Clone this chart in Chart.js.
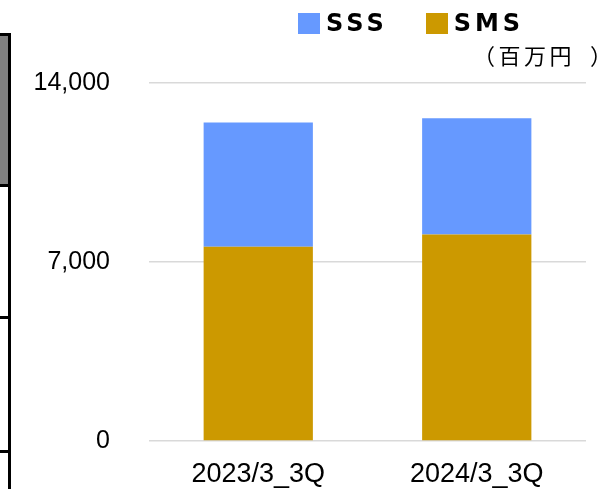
<!DOCTYPE html>
<html>
<head>
<meta charset="utf-8">
<script src="https://cdn.jsdelivr.net/npm/chart.js@4"></script>
<style>
  html, body { margin: 0; padding: 0; background: #fff; }
  #wrap { position: relative; width: 612px; height: 489px; overflow: hidden; }
  #c { position: absolute; left: 0; top: 0; }
  .deco { position: absolute; background: #000; }
  #legend { position: absolute; left: 298px; top: 9px; display: flex; align-items: center;
            font-family: "DejaVu Sans", sans-serif; font-weight: bold; font-size: 24px; color: #000; }
  #legend .item { display: flex; align-items: center; margin-right: 38px; }
  #legend .sw { width: 22px; height: 21px; margin-right: 6px; }
  #legend .tx { letter-spacing: 4px; }
  #unit { position: absolute; left: 473px; top: 43px; font-family: "Noto Sans CJK JP", sans-serif;
          font-size: 22px; line-height: 22px; letter-spacing: 3.5px; color: #000; white-space: nowrap; }
  #unit .rp { margin-left: 15px; }
</style>
</head>
<body>
<div id="wrap">
  <canvas id="c" width="612" height="489"></canvas>
  <!-- cropped slide table edge on the left -->
  <div style="position:absolute;left:0;top:34px;width:9px;height:151px;background:#808080;"></div>
  <div class="deco" style="left:0;top:33px;width:11px;height:3px;"></div>
  <div class="deco" style="left:8px;top:33px;width:3px;height:456px;"></div>
  <div class="deco" style="left:0;top:184px;width:11px;height:3px;"></div>
  <div class="deco" style="left:0;top:316px;width:11px;height:3px;"></div>
  <div class="deco" style="left:0;top:450px;width:11px;height:3px;"></div>
  <div id="legend"></div>
  <div id="unit"><span>（</span>百万円<span class="rp">）</span></div>
</div>
<script>
const categories = ["2023/3_3Q", "2024/3_3Q"];
const smsValues = [7600, 8080];
const sssValues = [4860, 4540];
const yTicks = [0, 7000, 14000];
const seriesNames = ["SSS", "SMS"];
const seriesColors = { SSS: "#6699FF", SMS: "#CC9900" };

// HTML legend built from the series names/colours
const lg = document.getElementById("legend");
seriesNames.forEach(n => {
  const it = document.createElement("div"); it.className = "item";
  const sw = document.createElement("div"); sw.className = "sw"; sw.style.background = seriesColors[n];
  const tx = document.createElement("span"); tx.className = "tx"; tx.textContent = n;
  it.appendChild(sw); it.appendChild(tx); lg.appendChild(it);
});

const yFont = { family: "'Liberation Sans', Arial, sans-serif", size: 25 };
const xFont = { family: "'Liberation Sans', Arial, sans-serif", size: 27 };

new Chart(document.getElementById("c"), {
  type: "bar",
  data: {
    labels: categories,
    datasets: [
      { label: "SMS", data: smsValues, backgroundColor: seriesColors.SMS, borderWidth: 0 },
      { label: "SSS", data: sssValues, backgroundColor: seriesColors.SSS, borderWidth: 0 }
    ]
  },
  options: {
    responsive: false,
    animation: false,
    devicePixelRatio: 1,
    layout: { padding: { left: 0, right: 26, top: 83, bottom: 0 } },
    plugins: { legend: { display: false }, tooltip: { enabled: false } },
    datasets: { bar: { categoryPercentage: 1, barPercentage: 0.5 } },
    scales: {
      x: {
        stacked: true,
        grid: { display: false },
        border: { display: false },
        ticks: { color: "#000", font: xFont, padding: 9, maxRotation: 0 },
        afterFit: s => { s.height = 48; }
      },
      y: {
        stacked: true,
        min: yTicks[0], max: yTicks[yTicks.length - 1],
        afterBuildTicks: s => { s.ticks = yTicks.map(v => ({ value: v })); },
        grid: { color: "#d9d9d9", lineWidth: 1.5, drawTicks: false },
        border: { display: false },
        ticks: { color: "#000", font: yFont, padding: 39,
                 callback: v => v.toLocaleString("en-US") },
        afterFit: s => { s.width = 149; s.paddingTop = 0; s.paddingBottom = 0; }
      }
    }
  }
});
</script>
</body>
</html>
